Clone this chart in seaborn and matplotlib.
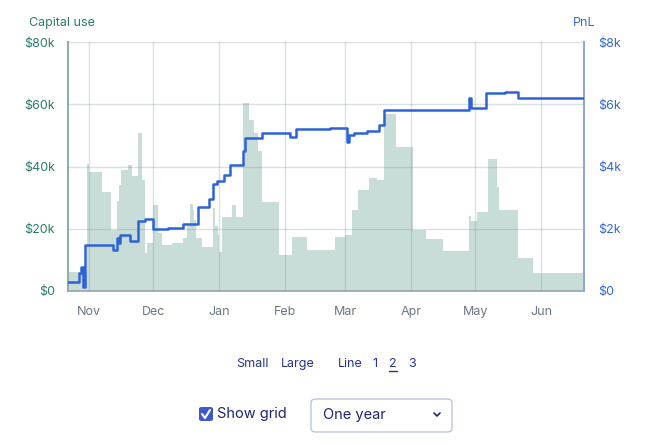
import pandas as pd
import numpy as np
import matplotlib
matplotlib.use("Agg")
import matplotlib.pyplot as plt
import matplotlib.dates as mdates
from matplotlib.patches import FancyBboxPatch
from matplotlib.lines import Line2D
import seaborn as sns

# capital use (left axis, $), step series
cap_dates = ['2022-10-22', '2022-10-31', '2022-11-01', '2022-11-07', '2022-11-11',
             '2022-11-14', '2022-11-15', '2022-11-16', '2022-11-19', '2022-11-21',
             '2022-11-24', '2022-11-25 12:00', '2022-11-27', '2022-11-28', '2022-12-01',
             '2022-12-03', '2022-12-05', '2022-12-10', '2022-12-15', '2022-12-17',
             '2022-12-18', '2022-12-19 12:00', '2022-12-20', '2022-12-21', '2022-12-24',
             '2022-12-29', '2022-12-30', '2022-12-31 12:00', '2023-01-01', '2023-01-02',
             '2023-01-04', '2023-01-07', '2023-01-09', '2023-01-12', '2023-01-15',
             '2023-01-17', '2023-01-19', '2023-01-21', '2023-01-29', '2023-02-04',
             '2023-02-11', '2023-02-24', '2023-03-01', '2023-03-04', '2023-03-07',
             '2023-03-12', '2023-03-16', '2023-03-19', '2023-03-25', '2023-04-02',
             '2023-04-08', '2023-04-16', '2023-04-28', '2023-04-29', '2023-05-02',
             '2023-05-07', '2023-05-11', '2023-05-12', '2023-05-21', '2023-05-28',
             '2023-06-21']
cap_values = [6200, 40800, 38300, 31800, 19600,
              29000, 34000, 38900, 40500, 37000,
              50800, 35700, 12200, 15400, 27600,
              18600, 14800, 15500, 17000, 21000,
              28000, 26000, 22800, 17000, 14000,
              26600, 21000, 18000, 12500, 23800,
              23800, 27600, 23800, 60400, 55000,
              50700, 45000, 28600, 11600, 17200,
              13200, 17400, 18000, 26000, 32500,
              36300, 35700, 57000, 46300, 19600,
              16700, 12800, 24000, 22500, 25300,
              42400, 33400, 26000, 10600, 5800,
              5800]

# PnL (right axis, $), step series
pnl_dates = ['2022-10-22', '2022-10-27', '2022-10-28', '2022-10-29', '2022-10-30',
             '2022-11-12', '2022-11-14', '2022-11-15', '2022-11-15 12:00', '2022-11-20',
             '2022-11-24', '2022-11-27', '2022-12-01', '2022-12-08', '2022-12-15',
             '2022-12-22', '2022-12-27', '2022-12-29', '2022-12-31', '2023-01-03',
             '2023-01-06', '2023-01-12', '2023-01-13', '2023-01-21', '2023-02-03',
             '2023-02-06', '2023-02-22', '2023-03-02', '2023-03-03', '2023-03-05',
             '2023-03-11', '2023-03-17', '2023-03-19', '2023-04-28', '2023-04-29',
             '2023-05-06', '2023-05-15', '2023-05-21', '2023-06-21']
pnl_values = [300, 580, 770, 130, 1480,
              1320, 1700, 1550, 1800, 1620,
              2250, 2300, 2000, 2010, 2150,
              2700, 2950, 3440, 3530, 3730,
              4050, 4500, 4900, 5080, 4950,
              5200, 5240, 4800, 5000, 5070,
              5150, 5330, 5820, 6200, 5880,
              6360, 6400, 6200, 6200]

cap_ticks = [0, 20000, 40000, 60000, 80000]
cap_labels = ['$0', '$20k', '$40k', '$60k', '$80k']
pnl_ticks = [0, 2000, 4000, 6000, 8000]
pnl_labels = ['$0', '$2k', '$4k', '$6k', '$8k']

cap = pd.DataFrame({'date': pd.to_datetime(cap_dates, format='mixed'), 'capital': cap_values})
pnl = pd.DataFrame({'date': pd.to_datetime(pnl_dates, format='mixed'), 'pnl': pnl_values})

sns.set_style("white")
plt.rcParams['font.family'] = ['Inter', 'DejaVu Sans']

teal = '#2a7a6b'
blue = '#3568d4'
x0, x1 = pd.Timestamp('2022-10-22'), pd.Timestamp('2023-06-21')

fig = plt.figure(figsize=(6.59, 4.46), dpi=100)
ax = fig.add_axes([68 / 659, 1 - 291 / 446, (584 - 68) / 659, (291 - 42) / 446])

ax.fill_between(cap['date'], cap['capital'], step='post', color='#c9ddd8', lw=0, zorder=1)
ax.set_ylim(0, 80000)
ax.set_xlim(x0, x1)
ax.set_yticks(cap_ticks)
ax.set_yticklabels(cap_labels)
ax.xaxis.set_major_locator(mdates.MonthLocator())
ax.xaxis.set_major_formatter(mdates.DateFormatter('%b'))
# grid sits over the area, as in the original
ax.grid(True, color='#6e8594', alpha=0.25, lw=1, zorder=2)
ax.set_axisbelow(False)
ax.tick_params(axis='y', length=0, pad=9.5, labelsize=9, labelcolor=teal)
ax.tick_params(axis='x', length=0, pad=11, labelsize=9, labelcolor='#6b7683')
ax.set_xlabel('')
ax.set_ylabel('')
for s in ['top', 'right']:
    ax.spines[s].set_visible(False)
ax.spines['left'].set_color('#8fb0aa')
ax.spines['left'].set_linewidth(1.5)
ax.spines['bottom'].set_color('#98a8ac')
ax.spines['bottom'].set_linewidth(1.2)

ax2 = ax.twinx()
sns.lineplot(data=pnl, x='date', y='pnl', ax=ax2, color='#2d63d6', lw=1.8,
             drawstyle='steps-post', zorder=3)
ax2.set_ylim(0, 8000)
ax2.set_yticks(pnl_ticks)
ax2.set_yticklabels(pnl_labels)
ax2.tick_params(axis='y', length=0, pad=10, labelsize=9, labelcolor=blue)
ax2.set_ylabel('')
ax2.set_xlabel('')
ax2.grid(False)
for s in ['top', 'left', 'bottom']:
    ax2.spines[s].set_visible(False)
ax2.spines['right'].set_color('#8ea8e3')
ax2.spines['right'].set_linewidth(1.5)
ax2.set_xlim(x0, x1)

fig.text(29 / 659, 1 - 23 / 446, 'Capital use', color=teal, fontsize=9, va='center', ha='left')
fig.text(595 / 659, 1 - 23 / 446, 'PnL', color=blue, fontsize=9, va='center', ha='right')

# controls below the chart
navy = '#26338c'
y1 = 1 - 364 / 446
for label, xp in [('Small', 236), ('Large', 281), ('Line', 338), ('1', 372), ('2', 389), ('3', 408)]:
    fig.text(xp / 659, y1, label, color=navy, fontsize=9, va='center', ha='left')
fig.add_artist(Line2D([389 / 659, 397 / 659], [1 - 371 / 446, 1 - 371 / 446], color=navy, lw=1))

fig.add_artist(FancyBboxPatch((199 / 659, 1 - 421 / 446), 14 / 659, 14 / 446,
                              boxstyle='round,pad=0,rounding_size=0.004',
                              transform=fig.transFigure, facecolor='#3d5ac8', edgecolor='none'))
fig.add_artist(Line2D([202 / 659, 205 / 659, 210 / 659], [1 - 414 / 446, 1 - 418 / 446, 1 - 410 / 446],
                      color='white', lw=1.5))
fig.text(217 / 659, 1 - 414 / 446, 'Show grid', color='#1e2670', fontsize=10.5, va='center', ha='left')

fig.add_artist(FancyBboxPatch((311 / 659, 1 - 432 / 446), 141 / 659, 33 / 446,
                              boxstyle='round,pad=0,rounding_size=0.008',
                              transform=fig.transFigure, facecolor='white', edgecolor='#bcc4e2', lw=1))
fig.text(323 / 659, 1 - 415 / 446, 'One year', color='#1e2670', fontsize=10.5, va='center', ha='left')
fig.add_artist(Line2D([434 / 659, 437 / 659, 440 / 659], [1 - 413 / 446, 1 - 416 / 446, 1 - 413 / 446],
                      color='#1e2670', lw=1.2))

fig.savefig('out.png', dpi=100)
